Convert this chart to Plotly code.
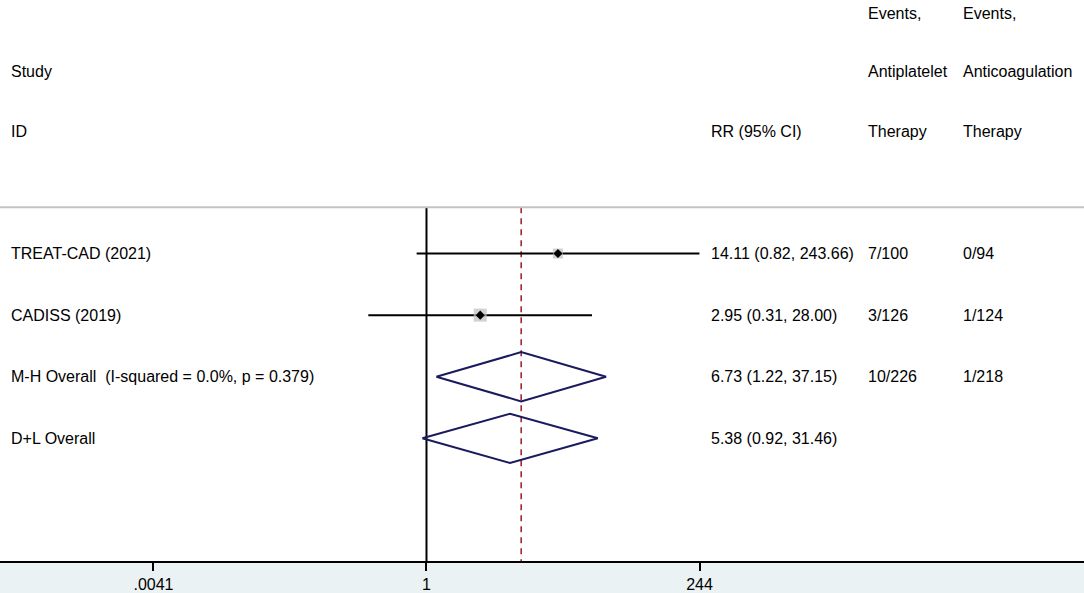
import plotly.graph_objects as go

FONT = "Arial, 'Liberation Sans', Arimo, sans-serif"
TEXT = "#000000"
NAVY = "#1A1A5E"
RED = "#A32A2E"
BOX = "#BDBDBD"
AXIS_BG = "#EAF2F3"

# study rows
studies = ["TREAT-CAD (2021)", "CADISS (2019)"]
rr = [14.11, 2.95]
ci_low = [0.82, 0.31]
ci_high = [243.66, 28.00]
events_antiplatelet = ["7/100", "3/126"]
events_anticoag = ["0/94", "1/124"]

# pooled rows
pooled = ["M-H Overall  (I-squared = 0.0%, p = 0.379)", "D+L Overall"]
pooled_rr = [6.73, 5.38]
pooled_low = [1.22, 0.92]
pooled_high = [37.15, 31.46]
pooled_antiplatelet = ["10/226", ""]
pooled_anticoag = ["1/218", ""]

tick_vals = [0.0041, 1, 244]
tick_text = [".0041", "1", "244"]

# layout helpers (row units, row 0 = first study)
BOX_SIZES = [10, 13]
DIAMOND_HALF = 0.4
SEP_ROW = -0.75
Y_TOP = -4.117
Y_BOTTOM = 4.992
X_RANGE = [-3.729, 5.749]  # log10 units

COL_STUDY = 9 / 1084
COL_RR = 709 / 1084
COL_AP = 866 / 1084
COL_AC = 961 / 1084

fig = go.Figure()

n_studies = len(studies)
study_rows = list(range(n_studies))
pooled_rows = [n_studies + i for i in range(len(pooled))]

# reference lines
fig.add_trace(go.Scatter(
    x=[1, 1], y=[SEP_ROW, Y_BOTTOM], mode="lines",
    line=dict(color=TEXT, width=2), hoverinfo="skip",
))
fig.add_trace(go.Scatter(
    x=[pooled_rr[0], pooled_rr[0]], y=[SEP_ROW, Y_BOTTOM], mode="lines",
    line=dict(color=RED, width=1.6, dash="6px,5px"), hoverinfo="skip",
))

# confidence intervals
for r, lo, hi in zip(study_rows, ci_low, ci_high):
    fig.add_trace(go.Scatter(
        x=[lo, hi], y=[r, r], mode="lines",
        line=dict(color=TEXT, width=2), hoverinfo="skip",
    ))

# weight boxes + point estimates
fig.add_trace(go.Scatter(
    x=rr, y=study_rows, mode="markers",
    marker=dict(symbol="square", size=BOX_SIZES, color=BOX, line=dict(width=0)),
    hoverinfo="skip",
))
fig.add_trace(go.Scatter(
    x=rr, y=study_rows, mode="markers",
    marker=dict(symbol="diamond", size=7, color=TEXT, line=dict(width=0)),
    hovertext=studies,
))

# pooled diamonds
for r, est, lo, hi in zip(pooled_rows, pooled_rr, pooled_low, pooled_high):
    fig.add_trace(go.Scatter(
        x=[lo, est, hi, est, lo],
        y=[r, r - DIAMOND_HALF, r, r + DIAMOND_HALF, r],
        mode="lines", line=dict(color=NAVY, width=2), hoverinfo="skip",
    ))


def label(x, y, text):
    fig.add_annotation(
        x=x, xref="paper", y=y, yref="y", text=text, showarrow=False,
        xanchor="left", yanchor="middle",
        font=dict(family=FONT, size=16, color=TEXT),
    )


# headers
label(COL_STUDY, -2.95, "Study")
label(COL_STUDY, -1.98, "ID")
label(COL_RR, -1.98, "RR (95% CI)")
label(COL_AP, -3.9, "Events,")
label(COL_AP, -2.95, "Antiplatelet")
label(COL_AP, -1.98, "Therapy")
label(COL_AC, -3.9, "Events,")
label(COL_AC, -2.95, "Anticoagulation")
label(COL_AC, -1.98, "Therapy")

for r, name, est, lo, hi, ap, ac in zip(
    study_rows + pooled_rows,
    studies + pooled,
    rr + pooled_rr,
    ci_low + pooled_low,
    ci_high + pooled_high,
    events_antiplatelet + pooled_antiplatelet,
    events_anticoag + pooled_anticoag,
):
    label(COL_STUDY, r, name)
    label(COL_RR, r, f"{est:.2f} ({lo:.2f}, {hi:.2f})")
    if ap:
        label(COL_AP, r, ap)
    if ac:
        label(COL_AC, r, ac)

# header separator
fig.add_shape(
    type="line", xref="paper", x0=0, x1=1, yref="y", y0=SEP_ROW, y1=SEP_ROW,
    line=dict(color="#C4C4C4", width=2),
)

fig.update_layout(
    width=1084,
    height=593,
    margin=dict(l=0, r=0, t=0, b=30),
    paper_bgcolor=AXIS_BG,
    plot_bgcolor="#FFFFFF",
    showlegend=False,
    font=dict(family=FONT, size=16, color=TEXT),
    xaxis=dict(
        type="log",
        range=X_RANGE,
        tickvals=tick_vals,
        ticktext=tick_text,
        ticks="outside",
        ticklen=8,
        tickwidth=1.5,
        tickcolor=TEXT,
        ticklabelstandoff=0,
        showline=True,
        linecolor=TEXT,
        linewidth=1.5,
        showgrid=False,
        zeroline=False,
        tickfont=dict(family=FONT, size=16, color=TEXT),
    ),
    yaxis=dict(
        range=[Y_BOTTOM, Y_TOP],
        visible=False,
        showgrid=False,
        zeroline=False,
    ),
)

fig.write_html(
    "out.html",
    config={"displayModeBar": False},
    post_script="document.body.style.margin='0';document.body.style.overflow='hidden';",
)
